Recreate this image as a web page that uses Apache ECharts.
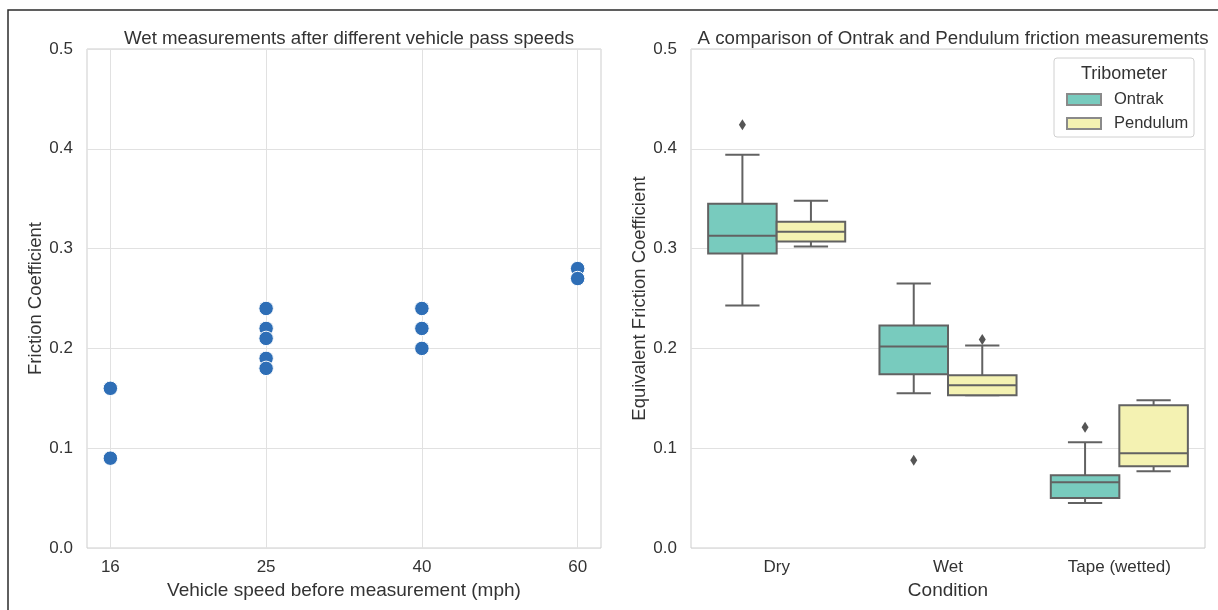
<!DOCTYPE html>
<html>
<head>
<meta charset="utf-8">
<script src="https://cdn.jsdelivr.net/npm/echarts@6/dist/echarts.min.js"></script>
<style>
  html, body { margin: 0; padding: 0; background: #fff; }
  #chart { width: 1218px; height: 610px; }
</style>
</head>
<body>
<div id="chart"></div>
<script>
// ---- Left panel: wet friction after vehicle passes ----
const speedLabels = ['16', '25', '40', '60'];
const wetSpeed = ['16', '16', '25', '25', '25', '25', '25', '40', '40', '40', '60', '60'];
const wetFriction = [0.16, 0.09, 0.24, 0.22, 0.21, 0.19, 0.18, 0.24, 0.22, 0.20, 0.28, 0.27];

// ---- Right panel: tribometer comparison (min, Q1, median, Q3, max) ----
const conditions = ['Dry', 'Wet', 'Tape (wetted)'];
const tribometers = ['Ontrak', 'Pendulum'];
const ontrakStats = [
  [0.243, 0.295, 0.313, 0.345, 0.394],
  [0.155, 0.174, 0.202, 0.223, 0.265],
  [0.045, 0.050, 0.066, 0.073, 0.106]
];
const pendulumStats = [
  [0.302, 0.307, 0.317, 0.327, 0.348],
  [0.153, 0.153, 0.163, 0.173, 0.203],
  [0.077, 0.082, 0.095, 0.143, 0.148]
];
// outliers: [condition index, value]
const ontrakOutliers = [[0, 0.424], [1, 0.088], [2, 0.121]];
const pendulumOutliers = [[1, 0.209]];

const FONT = "'Liberation Sans', Arial, sans-serif";
const TXT = '#333333';
const EDGE = '#626262';
const COLORS = { Ontrak: '#78cbbe', Pendulum: '#f4f2b2' };

const chart = echarts.init(document.getElementById('chart'), null, { renderer: 'canvas' });

const scatterData = wetSpeed.map((s, i) => [speedLabels.indexOf(s), wetFriction[i]]);

function boxData(stats) {
  return stats.map((s, i) => [i].concat(s));
}

// side: -1 for the first hue (left half of band), +1 for the second
function makeBoxRenderer(side, color) {
  return function (params, api) {
    const cat = api.value(0);
    const band = api.size([1, 0])[0];
    const w = band * 0.4;
    const cx = api.coord([cat, 0])[0] + side * w / 2;
    const yMin = api.coord([cat, api.value(1)])[1];
    const yQ1 = api.coord([cat, api.value(2)])[1];
    const yMed = api.coord([cat, api.value(3)])[1];
    const yQ3 = api.coord([cat, api.value(4)])[1];
    const yMax = api.coord([cat, api.value(5)])[1];
    const lineStyle = { stroke: EDGE, lineWidth: 2 };
    const cap = w / 4;
    return {
      type: 'group',
      children: [
        { type: 'line', shape: { x1: cx, y1: yQ3, x2: cx, y2: yMax }, style: lineStyle },
        { type: 'line', shape: { x1: cx, y1: yQ1, x2: cx, y2: yMin }, style: lineStyle },
        { type: 'line', shape: { x1: cx - cap, y1: yMax, x2: cx + cap, y2: yMax }, style: lineStyle },
        { type: 'line', shape: { x1: cx - cap, y1: yMin, x2: cx + cap, y2: yMin }, style: lineStyle },
        { type: 'rect', shape: { x: cx - w / 2, y: yQ3, width: w, height: yQ1 - yQ3 },
          style: { fill: color, stroke: EDGE, lineWidth: 2 } },
        { type: 'line', shape: { x1: cx - w / 2, y1: yMed, x2: cx + w / 2, y2: yMed }, style: lineStyle }
      ]
    };
  };
}

function makeOutlierRenderer(side) {
  return function (params, api) {
    const cat = api.value(0);
    const band = api.size([1, 0])[0];
    const w = band * 0.4;
    const p = api.coord([cat, api.value(1)]);
    const cx = p[0] + side * w / 2;
    const cy = p[1];
    return {
      type: 'polygon',
      shape: { points: [[cx, cy - 5.5], [cx + 3.5, cy], [cx, cy + 5.5], [cx - 3.5, cy]] },
      style: { fill: '#555555', stroke: null }
    };
  };
}

const yAxisCommon = {
  type: 'value',
  min: 0,
  max: 0.5,
  interval: 0.1,
  nameLocation: 'middle',
  nameRotate: 90,
  nameTextStyle: { fontFamily: FONT, fontSize: 18.5, color: TXT },
  axisLine: { show: false },
  axisTick: { show: false },
  axisLabel: { fontFamily: FONT, fontSize: 17, color: TXT, margin: 14,
    formatter: v => v.toFixed(1) },
  splitLine: { show: true, lineStyle: { color: '#e1e1e1', width: 1 } }
};

const option = {
  animation: false,
  backgroundColor: '#ffffff',
  title: [
    { text: 'Wet measurements after different vehicle pass speeds',
      left: 344, top: 24, textAlign: 'center',
      textStyle: { fontFamily: FONT, fontSize: 18.7, fontWeight: 'normal', color: TXT } },
    { text: 'A comparison of Ontrak and Pendulum friction measurements',
      left: 948, top: 24, textAlign: 'center',
      textStyle: { fontFamily: FONT, fontSize: 18.7, fontWeight: 'normal', color: TXT } }
  ],
  grid: [
    { left: 87, top: 49, width: 514, height: 499, show: true,
      borderColor: '#cdcdcd', borderWidth: 1, backgroundColor: 'transparent' },
    { left: 691, top: 49, width: 514, height: 499, show: true,
      borderColor: '#cdcdcd', borderWidth: 1, backgroundColor: 'transparent' }
  ],
  xAxis: [
    {
      gridIndex: 0, type: 'value', min: -0.15, max: 3.15,
      name: 'Vehicle speed before measurement (mph)',
      nameLocation: 'middle', nameGap: 32,
      nameTextStyle: { fontFamily: FONT, fontSize: 19, color: TXT },
      axisLine: { show: false },
      axisTick: { show: false, customValues: [0, 1, 2, 3] },
      axisLabel: { customValues: [0, 1, 2, 3], fontFamily: FONT, fontSize: 17, color: TXT,
        margin: 11, formatter: v => speedLabels[Math.round(v)] },
      splitLine: { show: true, lineStyle: { color: '#e1e1e1', width: 1 } }
    },
    {
      gridIndex: 1, type: 'category', data: conditions, boundaryGap: true,
      name: 'Condition', nameLocation: 'middle', nameGap: 32,
      nameTextStyle: { fontFamily: FONT, fontSize: 19, color: TXT },
      axisLine: { show: false },
      axisTick: { show: false },
      axisLabel: { fontFamily: FONT, fontSize: 17, color: TXT, margin: 11 },
      splitLine: { show: false }
    }
  ],
  yAxis: [
    Object.assign({}, yAxisCommon, { gridIndex: 0, name: 'Friction Coefficient', nameGap: 41 }),
    Object.assign({}, yAxisCommon, { gridIndex: 1, name: 'Equivalent Friction Coefficient', nameGap: 41 })
  ],
  legend: {
    data: tribometers,
    orient: 'vertical',
    left: 1061, top: 86,
    itemWidth: 34, itemHeight: 11, itemGap: 7,
    icon: 'rect',
    selectedMode: false,
    textStyle: { fontFamily: FONT, fontSize: 16.5, color: TXT, padding: [0, 0, 0, 8] },
    z: 10
  },
  graphic: [
    // outer frame (top and left edges)
    { type: 'polyline', z: 20, silent: true,
      shape: { points: [[8, 612], [8, 10], [1220, 10]] },
      style: { stroke: '#2b2b2b', lineWidth: 1.5, fill: null } },
    // legend box with title
    { type: 'rect', z: 5, silent: true,
      shape: { x: 1054, y: 58, width: 140, height: 79, r: 3 },
      style: { fill: '#ffffff', stroke: '#d0d0d0', lineWidth: 1 } },
    { type: 'text', z: 6, silent: true, left: 1081, top: 65,
      style: { text: 'Tribometer', font: "18px 'Liberation Sans', Arial, sans-serif", fill: TXT } }
  ],
  series: [
    {
      type: 'scatter', xAxisIndex: 0, yAxisIndex: 0,
      data: scatterData, symbol: 'circle', symbolSize: 14.5,
      itemStyle: { color: '#2e6eb6', borderColor: '#ffffff', borderWidth: 1, opacity: 1 }
    },
    {
      name: 'Ontrak', type: 'custom', xAxisIndex: 1, yAxisIndex: 1,
      data: boxData(ontrakStats), encode: { x: 0, y: [1, 2, 3, 4, 5] },
      renderItem: makeBoxRenderer(-1, COLORS.Ontrak),
      itemStyle: { color: COLORS.Ontrak, borderColor: '#8a8a8a', borderWidth: 1 }
    },
    {
      name: 'Pendulum', type: 'custom', xAxisIndex: 1, yAxisIndex: 1,
      data: boxData(pendulumStats), encode: { x: 0, y: [1, 2, 3, 4, 5] },
      renderItem: makeBoxRenderer(1, COLORS.Pendulum),
      itemStyle: { color: COLORS.Pendulum, borderColor: '#8a8a8a', borderWidth: 1 }
    },
    {
      type: 'custom', xAxisIndex: 1, yAxisIndex: 1,
      data: ontrakOutliers, encode: { x: 0, y: 1 },
      renderItem: makeOutlierRenderer(-1)
    },
    {
      type: 'custom', xAxisIndex: 1, yAxisIndex: 1,
      data: pendulumOutliers, encode: { x: 0, y: 1 },
      renderItem: makeOutlierRenderer(1)
    }
  ]
};

chart.setOption(option);
</script>
</body>
</html>
